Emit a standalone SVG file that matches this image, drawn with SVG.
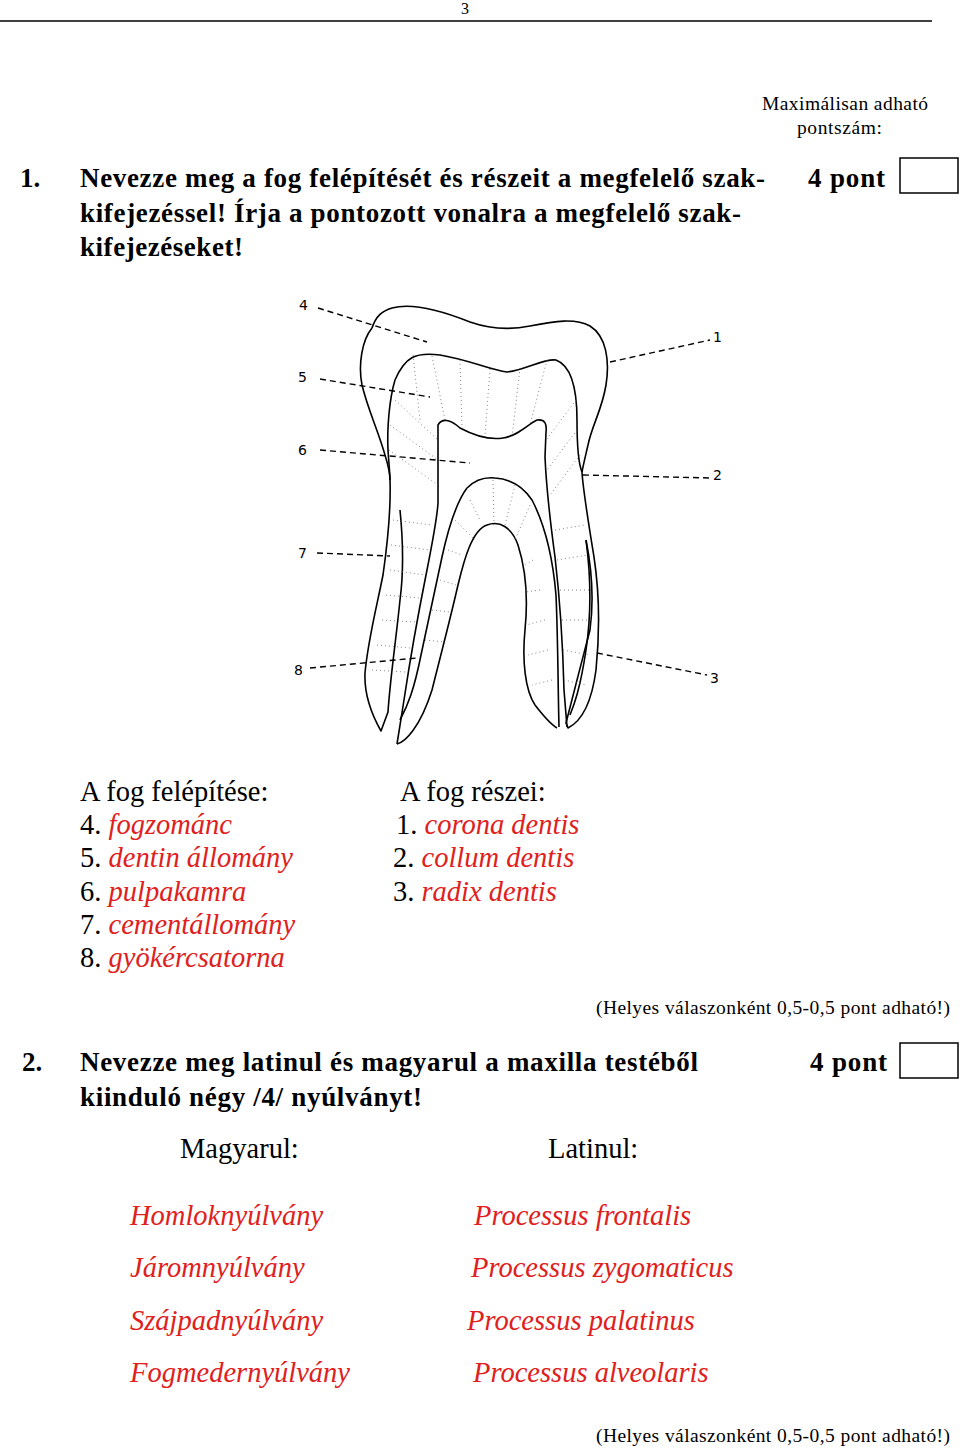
<svg xmlns="http://www.w3.org/2000/svg" width="960" height="1448" viewBox="0 0 960 1448">
<style>
text{font-family:"Liberation Serif","Times New Roman",serif;fill:#000}
.b{font-weight:bold;font-size:27px}
.r{font-size:28.5px}
.a{font-size:28.5px;font-style:italic;fill:#e0201c}
.s{font-size:19.5px}
.t{fill:none;stroke:#000;stroke-width:1.6;stroke-linejoin:round}
.d{fill:none;stroke:#000;stroke-width:1.4;stroke-dasharray:6,4}
.h{fill:none;stroke:#666;stroke-width:0.8;stroke-dasharray:1,3}
.n{font-family:"DejaVu Sans",sans-serif;font-size:14px}
.box{fill:#fff;stroke:#000;stroke-width:1.5}
</style>
<rect width="960" height="1448" fill="#fff"/>
<text x="465" y="14" font-size="16" text-anchor="middle">3</text>
<line x1="0" y1="21" x2="932" y2="21" stroke="#000" stroke-width="1.5"/>
<text class="s" x="762" y="110" textLength="166">Maximálisan adható</text>
<text class="s" x="797" y="134" textLength="85">pontszám:</text>
<text class="b" x="20" y="187">1.</text>
<text class="b" x="80" y="187" textLength="685">Nevezze meg a fog felépítését és részeit a megfelelő szak-</text>
<text class="b" x="80" y="222" textLength="661">kifejezéssel! Írja a pontozott vonalra a megfelelő szak-</text>
<text class="b" x="80" y="256" textLength="163">kifejezéseket!</text>
<text class="b" x="808" y="187" textLength="77">4 pont</text>
<rect class="box" x="900" y="158" width="58" height="35"/>

<g id="tooth">
<path class="t" d="M372,328 C376,316 382,311 392,308 C410,303 440,310 470,322 C490,329 510,330 530,326 C555,321 575,318 590,326 C606,336 610,360 606,385 C602,410 592,425 588,445 C585,458 583,466 582,472 C583,490 588,520 594,557 C599,590 600,630 596,670 C592,700 584,720 568,728 L566,723 C572,700 582,660 590,630 C594,600 592,570 586,540"/>
<path class="t" d="M372,328 C362,340 358,365 362,385 C368,410 378,430 385,455 C389,468 390,472 390,480 C391,510 388,540 383,575 C376,610 368,640 365,673 C364,695 372,715 381,731 L388,712 C390,680 396,640 400,600 C404,570 403,540 400,510"/>
<path class="t" d="M395,380 C405,357 415,352 440,355 C470,360 490,370 507,372 C525,370 545,358 556,360 C572,366 577,390 577,420 C577,450 579,465 582,472"/>
<path class="t" d="M395,380 C389,400 387,430 388,450 C389,465 390,475 390,480"/>
<path class="t" d="M438,503 L438,425 C442,418 450,419 460,428 C475,436 490,440 503,438 C518,436 528,424 537,420 C545,419 547,424 546,432 L545,457 C546,480 550,520 555,557 C560,600 563,650 564,690 L567,727"/>
<path class="t" d="M438,503 C437,520 432,545 426,575 C418,615 410,660 404,700 L397,744"/>
<path class="t" d="M467,488 C475,480 485,477 495,478 C510,479 522,485 532,500 C545,525 553,560 556,595 C558,640 558,690 559,727"/>
<path class="t" d="M467,488 C458,500 449,525 442,557 C435,590 428,622 421,655 C414,690 408,705 400,720"/>
<path class="t" d="M397,744 C405,742 420,728 432,690 C442,650 450,620 458,585 C464,560 472,530 487,525 C500,520 512,528 518,545 C526,570 528,600 525,630 C522,660 525,690 535,705 C545,718 552,725 557,728"/>
<path class="t" d="M586,540 C590,570 592,610 586,650 C580,690 574,705 570,715"/>
<path class="h" d="M413,355 L420,420 M432,356 L445,420 M460,360 L462,428 M490,369 L485,436 M520,368 L512,437 M547,360 L530,425 M395,400 L438,440 M390,425 L438,460 M389,450 L438,485 M576,400 L546,440 M577,430 L547,470 M580,455 L550,495"/>
<path class="h" d="M393,520 L432,525 M391,545 L430,550 M390,570 L425,575 M386,595 L420,598 M382,620 L415,622 M377,645 L410,648 M372,670 L405,672 M555,530 L585,525 M557,560 L588,555 M560,590 L590,590 M562,620 L592,620 M563,650 L590,655 M564,680 L586,685 M470,500 L480,520 M493,480 L494,525 M515,485 L505,525 M530,505 L515,540 M455,520 L475,540 M448,550 L462,555 M440,580 L456,585 M432,610 L450,612 M425,640 L445,642 M533,560 L525,565 M540,590 L526,592 M545,620 L526,625 M548,650 L528,655 M552,680 L532,685"/>
</g>
<g id="labels">
<text class="n" x="299" y="310">4</text>
<text class="n" x="298" y="382">5</text>
<text class="n" x="298" y="455">6</text>
<text class="n" x="298" y="558">7</text>
<text class="n" x="294" y="675">8</text>
<text class="n" x="713" y="342">1</text>
<text class="n" x="713" y="480">2</text>
<text class="n" x="710" y="683">3</text>
</g>
<g id="connectors">
<line class="d" x1="318" y1="308" x2="427" y2="342"/>
<line class="d" x1="320" y1="379" x2="430" y2="397"/>
<line class="d" x1="320" y1="450" x2="470" y2="463"/>
<line class="d" x1="317" y1="553" x2="390" y2="556"/>
<line class="d" x1="310" y1="668" x2="417" y2="658"/>
<line class="d" x1="610" y1="362" x2="710" y2="340"/>
<line class="d" x1="583" y1="475" x2="712" y2="478"/>
<line class="d" x1="597" y1="653" x2="707" y2="675"/>
</g>

<text class="r" x="80" y="801">A fog felépítése:</text>
<text class="r" x="80" y="834">4. <tspan class="a">fogzománc</tspan></text>
<text class="r" x="80" y="867">5. <tspan class="a">dentin állomány</tspan></text>
<text class="r" x="80" y="901">6. <tspan class="a">pulpakamra</tspan></text>
<text class="r" x="80" y="934">7. <tspan class="a">cementállomány</tspan></text>
<text class="r" x="80" y="967">8. <tspan class="a">gyökércsatorna</tspan></text>
<text class="r" x="400" y="801">A fog részei:</text>
<text class="r" x="396" y="834">1. <tspan class="a">corona dentis</tspan></text>
<text class="r" x="393" y="867">2. <tspan class="a">collum dentis</tspan></text>
<text class="r" x="393" y="901">3. <tspan class="a">radix dentis</tspan></text>
<text class="s" x="596" y="1014" textLength="354">(Helyes válaszonként 0,5-0,5 pont adható!)</text>

<text class="b" x="22" y="1071">2.</text>
<text class="b" x="80" y="1071" textLength="618">Nevezze meg latinul és magyarul a maxilla testéből</text>
<text class="b" x="80" y="1106" textLength="342">kiinduló négy /4/ nyúlványt!</text>
<text class="b" x="810" y="1071" textLength="77">4 pont</text>
<rect class="box" x="900" y="1043" width="58" height="35"/>
<text class="r" x="180" y="1158">Magyarul:</text>
<text class="r" x="548" y="1158">Latinul:</text>
<text class="a" x="130" y="1225">Homloknyúlvány</text>
<text class="a" x="130" y="1277">Járomnyúlvány</text>
<text class="a" x="130" y="1330">Szájpadnyúlvány</text>
<text class="a" x="130" y="1382">Fogmedernyúlvány</text>
<text class="a" x="474" y="1225">Processus frontalis</text>
<text class="a" x="471" y="1277">Processus zygomaticus</text>
<text class="a" x="467" y="1330">Processus palatinus</text>
<text class="a" x="473" y="1382">Processus alveolaris</text>
<text class="s" x="596" y="1442" textLength="354">(Helyes válaszonként 0,5-0,5 pont adható!)</text>
</svg>
